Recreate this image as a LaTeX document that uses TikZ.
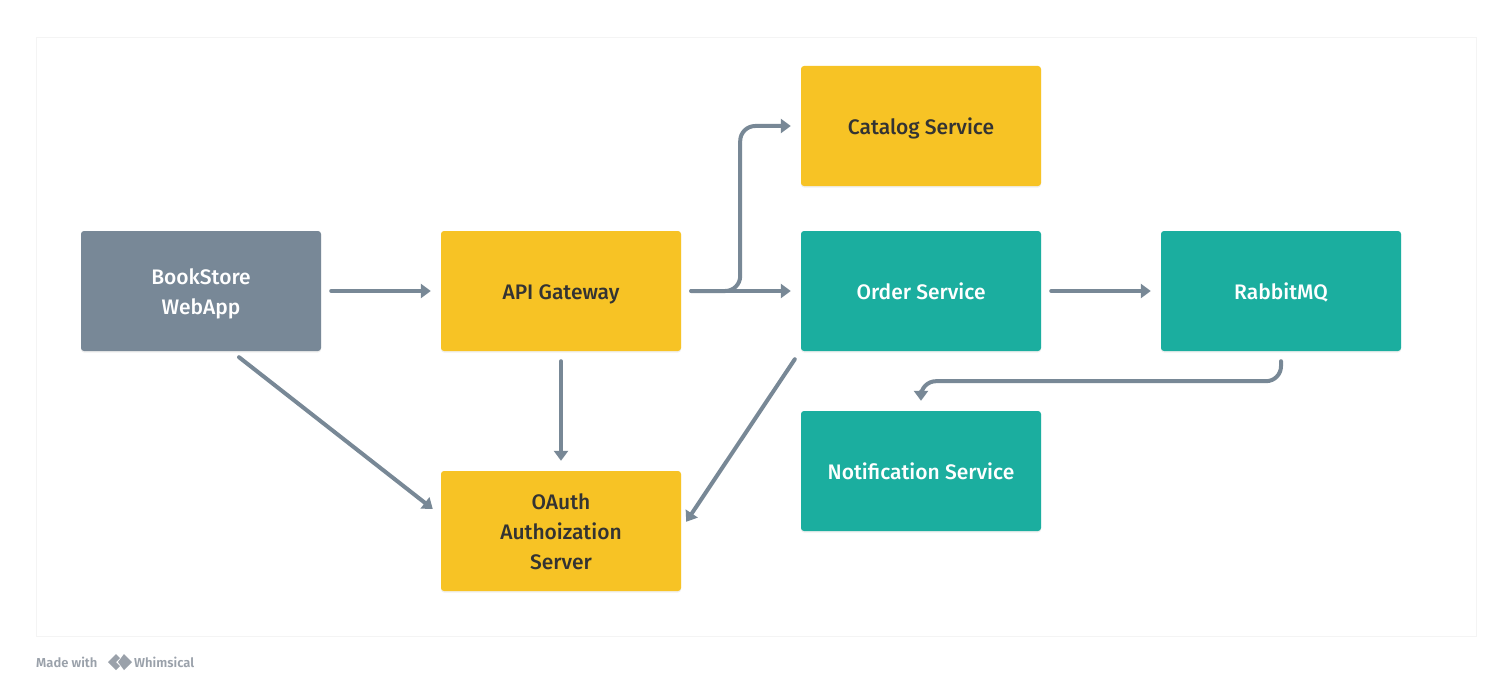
\documentclass[tikz,border=0pt]{standalone}
\usepackage{fontspec}
\setmainfont{Fira Sans}[UprightFont={* Medium},BoldFont={* SemiBold}]
\usetikzlibrary{arrows.meta,shadows,calc}
\definecolor{boxgray}{HTML}{788897}
\definecolor{boxyellow}{HTML}{F7C325}
\definecolor{boxteal}{HTML}{1BAE9F}
\definecolor{conncol}{HTML}{788896}
\definecolor{darktext}{HTML}{333333}
\definecolor{panelline}{HTML}{F4F4F4}
\definecolor{footcol}{HTML}{9AA1AA}
\newcommand\boxtext[1]{\raisebox{-7.5pt}[0pt][0pt]{\begin{tabular}{@{}c@{}}#1\end{tabular}}}
\begin{document}
\begin{tikzpicture}[x=1pt,y=-1pt,
  box/.style={minimum width=240pt,minimum height=120pt,rounded corners=3pt,
    font=\fontsize{21}{30}\selectfont,inner sep=0pt,
    drop shadow={opacity=0.12,shadow xshift=0pt,shadow yshift=-1.5pt}},
  graybox/.style={box,fill=boxgray,text=white},
  yellowbox/.style={box,fill=boxyellow,text=darktext},
  tealbox/.style={box,fill=boxteal,text=white},
  conn/.style={draw=conncol,line width=4pt,line cap=round,
    -{Triangle[length=10pt,width=14pt]}}]
\useasboundingbox (0,0) rectangle (1512,690);
\fill[white] (0,0) rectangle (1512,690);
\draw[panelline,fill=white,line width=1pt] (36,38) rectangle (1476,636);

\node[graybox]   (web)    at (201,291) {\boxtext{BookStore\\WebApp}};
\node[yellowbox] (api)    at (561,291) {\boxtext{API Gateway}};
\node[yellowbox] (cat)    at (921,126) {\boxtext{Catalog Service}};
\node[tealbox]   (order)  at (921,291) {\boxtext{Order Service}};
\node[tealbox]   (rmq)    at (1281,291) {\boxtext{RabbitMQ}};
\node[tealbox]   (notif)  at (921,471) {\boxtext{Notification Service}};
\node[yellowbox] (oauth)  at (561,531) {\boxtext{OAuth\\Authoization\\Server}};

\draw[conn,shorten <=10pt,shorten >=10pt] (web) -- (api);
\draw[conn,shorten <=10pt,shorten >=10pt] (api) -- (order);
\draw[conn,shorten <=10pt,shorten >=10pt] (order) -- (rmq);
\draw[conn,rounded corners=15pt] ([xshift=10pt]api.east) -- ++(49,0) |- ([xshift=-10pt]cat.west);
\draw[conn] ([yshift=-10pt]api.south) -- ([yshift=10pt]oauth.north);
\draw[conn,rounded corners=15pt] ([yshift=-10pt]rmq.south) -- ++(0,20) -| ([yshift=10pt]notif.north);
\draw[conn] ([xshift=38pt,yshift=-6pt]web.south) -- ([xshift=-8pt,yshift=22pt]oauth.west);
\draw[conn] ([xshift=-6pt,yshift=-8pt]order.south west) -- ([xshift=5pt,yshift=-51pt]oauth.north east);

\node[anchor=west,text=footcol,font=\fontsize{13}{13}\selectfont\bfseries,inner sep=0pt] (made) at (36,662) {Made with};
\coordinate (logo) at (118,662);
\fill[footcol] ($(logo)+(-10,0)$) -- ($(logo)+(-2,-8)$) -- ($(logo)+(2,-4)$) -- ($(logo)+(-2,0)$) -- ($(logo)+(2,4)$) -- ($(logo)+(-2,8)$) -- cycle;
\fill[footcol] ($(logo)+(0,0)$) -- ($(logo)+(6,-8)$) -- ($(logo)+(14,0)$) -- ($(logo)+(6,8)$) -- cycle;
\node[anchor=west,text=footcol,font=\fontsize{13}{13}\selectfont\bfseries,inner sep=0pt] (whim) at (134,662) {Whimsical};
\end{tikzpicture}
\end{document}
